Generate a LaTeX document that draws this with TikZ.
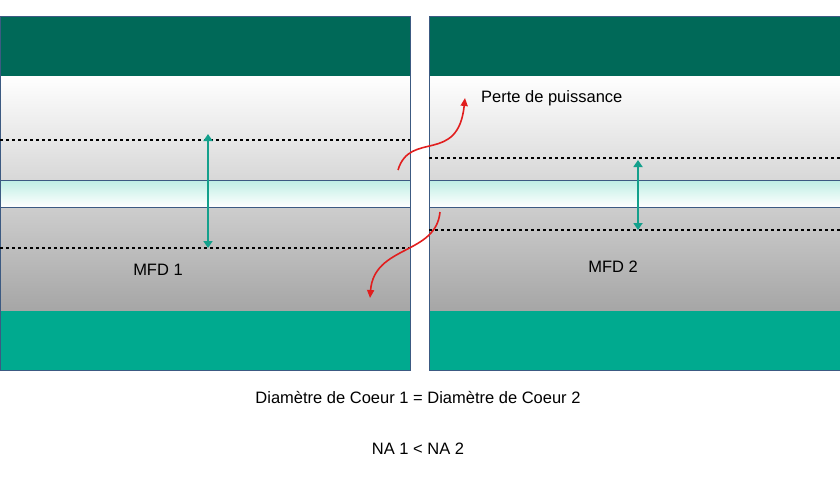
\documentclass[tikz,border=0pt]{standalone}
\usepackage{fontspec}
\setmainfont{Liberation Sans}
\usetikzlibrary{arrows.meta}
\definecolor{darkband}{RGB}{0,105,88}
\definecolor{tealband}{RGB}{0,170,143}
\definecolor{coreband}{RGB}{190,238,228}
\definecolor{frameblue}{RGB}{60,90,130}
\definecolor{mfdarrow}{RGB}{20,160,140}
\definecolor{lossred}{RGB}{225,30,30}
\tikzset{every picture/.style={line width=0.75pt},
  mfd/.style={draw=mfdarrow,line width=2.4pt,{Triangle[length=7pt,width=9pt]}-{Triangle[length=7pt,width=9pt]}},
  loss/.style={draw=lossred,line width=1.6pt,-{Triangle[length=8pt,width=7pt]}},
  lbl/.style={inner sep=0.75pt,font=\fontsize{16.5}{19}\selectfont}}
\begin{document}
\begin{tikzpicture}[x=1pt,y=1pt,yscale=-1,xscale=1]
\useasboundingbox (0,0) rectangle (840,480);

% Left fibre
\shade[top color=white,bottom color=black!35] (0,76) rectangle (410,311);
\shade[top color=coreband,bottom color=white] (0,180) rectangle (410,207);
\fill[darkband] (0,16) rectangle (410,76);
\fill[tealband] (0,311) rectangle (410,370);
\draw[frameblue,line width=0.8pt] (0,180) -- (410,180) (0,207) -- (410,207);
\draw[frameblue,line width=0.8pt] (0,16) rectangle (410,370);
\draw[dashed,line width=1.2pt] (0,140) -- (410,140);
\draw[dashed,line width=1.2pt] (0,248) -- (410,248);

% Right fibre
\shade[top color=white,bottom color=black!35] (429,76) rectangle (840,311);
\shade[top color=coreband,bottom color=white] (429,180) rectangle (840,207);
\fill[darkband] (429,16) rectangle (840,76);
\fill[tealband] (429,311) rectangle (840,370);
\draw[frameblue,line width=0.8pt] (429,180) -- (840,180) (429,207) -- (840,207);
\draw[frameblue,line width=0.8pt] (429,16) rectangle (840,370);
\draw[dashed,line width=1.2pt] (429,158) -- (840,158);
\draw[dashed,line width=1.2pt] (429,230) -- (840,230);

% MFD arrows
\coordinate (m1t) at (208,134);
\coordinate (m1b) at (208,248);
\coordinate (m2t) at (638,160);
\coordinate (m2b) at (638,230);
\draw[mfd] (m1t) -- (m1b);
\draw[mfd] (m2t) -- (m2b);

% Power loss
\coordinate (l1s) at (398,170);
\coordinate (l1e) at (465,98);
\coordinate (l2s) at (440,212);
\coordinate (l2e) at (370,298);
\draw[loss] (l1s) .. controls (410,130) and (458,165) .. (l1e);
\draw[loss] (l2s) .. controls (436,255) and (374,245) .. (l2e);

% Text Node
\node[lbl,anchor=west] (perte) at (480,98) {Perte de puissance};
\node[lbl] (mfd1) at (158,270) {MFD 1};
\node[lbl] (mfd2) at (613,267) {MFD 2};
\node[lbl] (diam) at (418,397) {Diamètre de Coeur 1 = Diamètre de Coeur 2};
\node[lbl] (na) at (418,449) {NA 1 < NA 2};
\end{tikzpicture}
\end{document}
